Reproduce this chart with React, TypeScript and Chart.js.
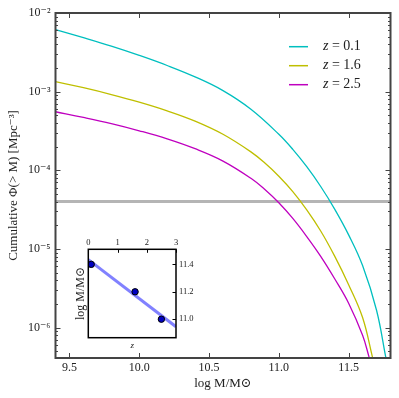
import React, { useEffect, useRef } from 'react';
import { Chart, registerables } from 'chart.js';

Chart.register(...registerables);

const FONT = "'Liberation Serif', 'DejaVu Serif', serif";
const TEXT = '#222';

// ---- main panel data ----
const seriesLabels = ['z = 0.1', 'z = 1.6', 'z = 2.5'];
const seriesColors = ['#00bfbf', '#bfbf00', '#bf00bf'];

const logM_z01 = [9.4, 9.6, 9.8, 10.0, 10.2, 10.4, 10.6, 10.8, 11.0, 11.1, 11.2, 11.3, 11.4, 11.5, 11.6, 11.7, 11.767];
const phi_z01 = [6.13e-3, 4.85e-3, 3.79e-3, 2.89e-3, 2.15e-3, 1.54e-3, 1.03e-3, 5.97e-4, 2.87e-4, 1.845e-4, 1.11e-4, 6.22e-5, 3.21e-5, 1.51e-5, 6.14e-6, 1.66e-6, 4.12e-7];

const logM_z16 = [9.4, 9.6, 9.8, 10.0, 10.2, 10.4, 10.6, 10.8, 10.9, 11.0, 11.1, 11.2, 11.3, 11.4, 11.5, 11.6, 11.672];
const phi_z16 = [1.337e-3, 1.122e-3, 9.19e-4, 7.35e-4, 5.7e-4, 4.22e-4, 2.87e-4, 1.714e-4, 1.236e-4, 8.41e-5, 5.36e-5, 3.14e-5, 1.69e-5, 8.09e-6, 3.51e-6, 1.34e-6, 4.12e-7];

const logM_z25 = [9.4, 9.6, 9.8, 10.0, 10.2, 10.4, 10.6, 10.8, 10.9, 11.0, 11.1, 11.2, 11.3, 11.4, 11.5, 11.6, 11.648];
const phi_z25 = [5.55e-4, 4.7e-4, 3.92e-4, 3.18e-4, 2.51e-4, 1.88e-4, 1.31e-4, 7.91e-5, 5.7e-5, 3.86e-5, 2.44e-5, 1.435e-5, 8.04e-6, 4.17e-6, 2.04e-6, 7.96e-7, 4.12e-7];

const thresholdPhi = 4e-5;
const thresholdLogM = [9.4, 11.8];

const xTickValues = [9.5, 10.0, 10.5, 11.0, 11.5];
const xTickLabels = ['9.5', '10.0', '10.5', '11.0', '11.5'];
const yTickValues = [1e-6, 1e-5, 1e-4, 1e-3, 1e-2];
const yTickLabels = ['10⁻⁶', '10⁻⁵', '10⁻⁴', '10⁻³', '10⁻²'];

// ---- inset data ----
const insetZ = [0.1, 1.6, 2.5];
const insetLogM = [11.4, 11.2, 11.0];
const fitZ = [0, 3];
const fitLogM = [11.435, 10.945];
const insetXTicks = [0, 1, 2, 3];
const insetXTickLabels = ['0', '1', '2', '3'];
const insetYTicks = [11.0, 11.2, 11.4];
const insetYTickLabels = ['11.0', '11.2', '11.4'];

const mainPlugin = {
  id: 'mainFrame',
  afterDraw(chart: any) {
    const { ctx, chartArea: a, scales } = chart;
    const xs = scales.x;
    const ys = scales.y;
    ctx.save();
    ctx.strokeStyle = '#444';
    ctx.lineWidth = 1;
    ctx.beginPath();
    for (const v of xTickValues) {
      const px = Math.round(xs.getPixelForValue(v)) + 0.5;
      ctx.moveTo(px, a.bottom);
      ctx.lineTo(px, a.bottom - 5);
      ctx.moveTo(px, a.top);
      ctx.lineTo(px, a.top + 5);
    }
    for (let e = -7; e <= -2; e++) {
      for (let k = 1; k <= 9; k++) {
        const v = k * Math.pow(10, e);
        if (v < ys.min || v > ys.max) continue;
        const py = Math.round(ys.getPixelForValue(v)) + 0.5;
        const len = k === 1 ? 5 : 2.5;
        ctx.moveTo(a.left, py);
        ctx.lineTo(a.left + len, py);
        ctx.moveTo(a.right, py);
        ctx.lineTo(a.right - len, py);
      }
    }
    ctx.stroke();
    ctx.lineWidth = 2;
    ctx.strokeRect(a.left, a.top, a.right - a.left, a.bottom - a.top);

    // legend
    const lx0 = a.left + 233.5;
    const lx1 = a.left + 252.5;
    const tx = a.left + 267.5;
    chart.data.datasets.forEach((ds: any, i: number) => {
      if (!ds.showInLegend) return;
      const y = a.top + 33.7 + 19 * i;
      ctx.strokeStyle = ds.borderColor;
      ctx.lineWidth = 1.5;
      ctx.beginPath();
      ctx.moveTo(lx0, y);
      ctx.lineTo(lx1, y);
      ctx.stroke();
      const label: string = ds.label;
      ctx.fillStyle = TEXT;
      ctx.textBaseline = 'middle';
      ctx.textAlign = 'left';
      ctx.font = `italic 14px ${FONT}`;
      const first = label.slice(0, 1);
      ctx.fillText(first, tx, y);
      const w = ctx.measureText(first).width;
      ctx.font = `14px ${FONT}`;
      ctx.fillText(label.slice(1), tx + w, y);
    });
    ctx.restore();
  },
};

const insetPlugin = {
  id: 'insetFrame',
  beforeDatasetsDraw(chart: any) {
    const { ctx, chartArea: a } = chart;
    ctx.save();
    ctx.fillStyle = '#fff';
    ctx.fillRect(a.left, a.top, a.right - a.left, a.bottom - a.top);
    ctx.restore();
  },
  afterDraw(chart: any) {
    const { ctx, chartArea: a, scales } = chart;
    ctx.save();
    ctx.strokeStyle = '#000';
    ctx.lineWidth = 1;
    ctx.beginPath();
    for (const v of insetXTicks) {
      const px = Math.round(scales.x.getPixelForValue(v)) + 0.5;
      ctx.moveTo(px, a.top);
      ctx.lineTo(px, a.top + 3.5);
    }
    for (const v of insetYTicks) {
      const py = Math.round(scales.y.getPixelForValue(v)) + 0.5;
      ctx.moveTo(a.right, py);
      ctx.lineTo(a.right - 3.5, py);
    }
    ctx.stroke();
    ctx.lineWidth = 1.5;
    ctx.strokeRect(a.left, a.top, a.right - a.left, a.bottom - a.top);
    ctx.restore();
  },
};

const noGrid = { display: false, drawTicks: false, tickLength: 0 };

export default function App() {
  const mainRef = useRef<HTMLCanvasElement>(null);
  const insetRef = useRef<HTMLCanvasElement>(null);

  useEffect(() => {
    const mk = (xs: number[], ys: number[]) => xs.map((x, i) => ({ x, y: ys[i] }));
    const series = [
      [logM_z01, phi_z01],
      [logM_z16, phi_z16],
      [logM_z25, phi_z25],
    ];
    const datasets: any[] = series.map(([xs, ys], i) => ({
      label: seriesLabels[i],
      data: mk(xs, ys),
      borderColor: seriesColors[i],
      borderWidth: 1.3,
      pointRadius: 0,
      tension: 0.4,
      showInLegend: true,
    }));
    datasets.push({
      label: 'threshold',
      data: thresholdLogM.map((x) => ({ x, y: thresholdPhi })),
      borderColor: '#b5b5b5',
      borderWidth: 3,
      pointRadius: 0,
      showInLegend: false,
    });

    const main = new Chart(mainRef.current as HTMLCanvasElement, {
      type: 'line',
      data: { datasets },
      plugins: [mainPlugin],
      options: {
        responsive: false,
        animation: false,
        devicePixelRatio: 1,
        layout: { padding: { top: 13, right: 8.5, bottom: 0, left: 0 } },
        plugins: { legend: { display: false }, tooltip: { enabled: false } },
        scales: {
          x: {
            type: 'linear',
            min: 9.4,
            max: 11.8,
            grid: noGrid,
            border: { display: false },
            afterBuildTicks: (s: any) => {
              s.ticks = xTickValues.map((value) => ({ value }));
            },
            afterFit: (s: any) => {
              s.height = 40;
            },
            ticks: {
              callback: (_v: any, i: number) => xTickLabels[i],
              font: { family: FONT, size: 12 },
              color: TEXT,
              padding: 3,
              maxRotation: 0,
              autoSkip: false,
            },
            title: {
              display: true,
              text: 'log M/M⊙',
              font: { family: FONT, size: 13 },
              color: TEXT,
              padding: { top: 0, bottom: 7 },
            },
          },
          y: {
            type: 'logarithmic',
            min: 4.1e-7,
            max: 1e-2,
            grid: noGrid,
            border: { display: false },
            afterBuildTicks: (s: any) => {
              s.ticks = yTickValues.map((value) => ({ value }));
            },
            afterFit: (s: any) => {
              s.width = 55.5;
            },
            ticks: {
              callback: (_v: any, i: number) => yTickLabels[i],
              font: { family: FONT, size: 12 },
              color: TEXT,
              padding: 5,
              autoSkip: false,
            },
            title: {
              display: true,
              text: 'Cumulative Φ(> M) [Mpc⁻³]',
              font: { family: FONT, size: 13 },
              color: TEXT,
              padding: { top: 6, bottom: 0 },
            },
          },
        },
      } as any,
    });

    const inset = new Chart(insetRef.current as HTMLCanvasElement, {
      type: 'line',
      data: {
        datasets: [
          {
            label: 'points',
            data: mk(insetZ, insetLogM),
            showLine: false,
            pointRadius: 3.2,
            pointBackgroundColor: '#0000c0',
            pointBorderColor: '#000',
            pointBorderWidth: 1,
            xAxisID: 'x',
            yAxisID: 'y',
          },
          {
            label: 'fit',
            data: mk(fitZ, fitLogM),
            borderColor: 'rgba(80,80,255,0.72)',
            borderWidth: 3,
            pointRadius: 0,
            xAxisID: 'x',
            yAxisID: 'y',
          },
        ],
      },
      plugins: [insetPlugin],
      options: {
        responsive: false,
        animation: false,
        devicePixelRatio: 1,
        layout: { padding: 0 },
        plugins: { legend: { display: false }, tooltip: { enabled: false } },
        scales: {
          x: {
            type: 'linear',
            position: 'top',
            min: 0,
            max: 3,
            grid: noGrid,
            border: { display: false },
            afterBuildTicks: (s: any) => {
              s.ticks = insetXTicks.map((value) => ({ value }));
            },
            afterFit: (s: any) => {
              s.height = 15.3;
            },
            ticks: {
              callback: (_v: any, i: number) => insetXTickLabels[i],
              font: { family: FONT, size: 8.5 },
              color: TEXT,
              padding: 1,
              maxRotation: 0,
              autoSkip: false,
            },
          },
          xb: {
            type: 'linear',
            position: 'bottom',
            min: 0,
            max: 3,
            grid: noGrid,
            border: { display: false },
            ticks: { display: false },
            afterFit: (s: any) => {
              s.height = 16.3;
            },
            title: {
              display: true,
              text: 'z',
              font: { family: FONT, size: 9, style: 'italic' },
              color: TEXT,
              padding: { top: 0, bottom: 2.5 },
            },
          },
          y: {
            type: 'linear',
            position: 'right',
            min: 10.865,
            max: 11.51,
            grid: noGrid,
            border: { display: false },
            afterBuildTicks: (s: any) => {
              s.ticks = insetYTicks.map((value) => ({ value }));
            },
            afterFit: (s: any) => {
              s.width = 22;
            },
            ticks: {
              callback: (_v: any, i: number) => insetYTickLabels[i],
              font: { family: FONT, size: 8.5 },
              color: TEXT,
              padding: 3,
              autoSkip: false,
            },
          },
          yl: {
            type: 'linear',
            position: 'left',
            grid: noGrid,
            border: { display: false },
            ticks: { display: false },
            afterFit: (s: any) => {
              s.width = 20.3;
            },
            title: {
              display: true,
              text: 'log M/M⊙',
              font: { family: FONT, size: 12 },
              color: TEXT,
              padding: { top: 6, bottom: 0 },
            },
          },
        },
      } as any,
    });

    return () => {
      main.destroy();
      inset.destroy();
    };
  }, []);

  return (
    <div style={{ position: 'fixed', left: 0, top: 0, width: 399, height: 398, background: '#fff' }}>
      <canvas ref={mainRef} width={399} height={398} style={{ position: 'absolute', left: 0, top: 0, width: 399, height: 398 }} />
      <canvas ref={insetRef} width={130} height={120} style={{ position: 'absolute', left: 68, top: 234, width: 130, height: 120 }} />
    </div>
  );
}
